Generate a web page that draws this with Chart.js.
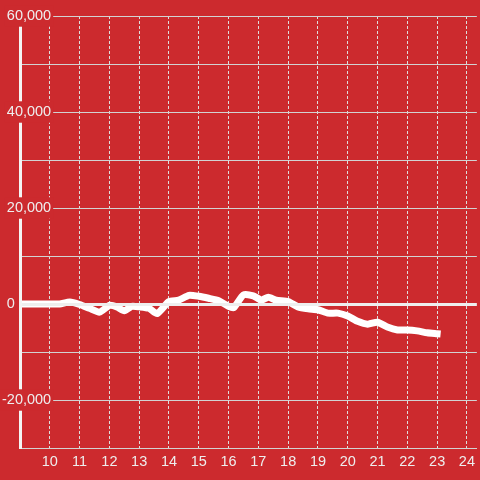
<!DOCTYPE html>
<html>
<head>
<meta charset="utf-8">
<script src="https://cdn.jsdelivr.net/npm/chart.js@4.4.0/dist/chart.umd.min.js"></script>
<style>
  html, body { margin: 0; padding: 0; background: #cc2a2e; }
  #wrap { width: 480px; height: 480px; position: relative; background: #cc2a2e; }
</style>
</head>
<body>
<div id="wrap"><canvas id="chart"></canvas></div>
<script>
// hour of day (decimal) and value
const hours = [9, 10, 10.33, 10.67, 11, 11.33, 11.67, 12, 12.25, 12.5, 12.75, 13, 13.33, 13.6,
  14, 14.33, 14.67, 15, 15.33, 15.67, 16, 16.17, 16.5, 16.83, 17.1, 17.33, 17.6, 18, 18.33,
  18.67, 19, 19.33, 19.67, 20, 20.33, 20.67, 21, 21.33, 21.67, 22, 22.33, 22.67, 23];
const values = [0, 0, 0, 400, -100, -900, -1700, -300, -600, -1400, -500, -600, -900, -2000,
  500, 800, 1800, 1600, 1200, 700, -500, -800, 1900, 1700, 800, 1400, 800, 500, -600,
  -1000, -1200, -1900, -1900, -2500, -3600, -4200, -3800, -4800, -5400, -5400, -5600, -6000, -6200];

const xMin = 9;
const xMax = 24.333;
const yMin = -30000;
const yMax = 60000;

const labelColor = '#eeeeee';
const gridColor = '#d2d2d2';
const bgColor = '#cc2a2e';
const font = { family: 'Liberation Sans, Arial, sans-serif', size: 14.5 };

const points = hours.map((h, i) => ({ x: h, y: values[i] }));

// only every second y tick gets a label (and a red box behind it)
const isLabelled = (v) => v % 20000 === 0;

new Chart(document.getElementById('chart'), {
  type: 'line',
  data: {
    datasets: [
      {
        data: points,
        borderColor: '#ffffff',
        borderWidth: 7,
        borderCapStyle: 'square',
        borderJoinStyle: 'round',
        pointRadius: 0,
        tension: 0.2,
        fill: false,
      },
    ],
  },
  options: {
    responsive: true,
    maintainAspectRatio: false,
    animation: false,
    layout: { padding: { top: 16, left: 0, right: 0, bottom: 0 } },
    plugins: { legend: { display: false }, tooltip: { enabled: false } },
    scales: {
      x: {
        type: 'linear',
        min: xMin,
        max: xMax,
        afterFit: (scale) => { scale.height = 32; },
        ticks: {
          stepSize: 1,
          includeBounds: false,
          padding: 5,
          color: labelColor,
          font: font,
          maxRotation: 0,
          callback: (v) => (v === xMin ? '' : v),
        },
        grid: { color: '#dddddd', lineWidth: 1, drawTicks: false },
        border: { color: gridColor, width: 1, dash: [3, 2] },
      },
      y: {
        min: yMin,
        max: yMax,
        afterFit: (scale) => { scale.width = 20; },
        ticks: {
          stepSize: 10000,
          mirror: true,
          crossAlign: 'far',
          padding: -18,
          color: labelColor,
          font: font,
          z: 3,
          showLabelBackdrop: (ctx) => isLabelled(ctx.tick.value) && ctx.tick.value !== 0,
          backdropColor: bgColor,
          backdropPadding: 2,
          callback: (v) => {
            if (v === 0) return '0' + '         ';
            return isLabelled(v) ? v.toLocaleString('en-US') : '';
          },
        },
        grid: {
          z: 1,
          drawTicks: false,
          color: (ctx) => (ctx.tick && ctx.tick.value === 0 ? '#eeeeee' : gridColor),
          lineWidth: (ctx) => (ctx.tick && ctx.tick.value === 0 ? 3 : 1),
        },
        border: { color: '#f4f4f4', width: 3, z: 2 },
      },
    },
  },
});
</script>
</body>
</html>
